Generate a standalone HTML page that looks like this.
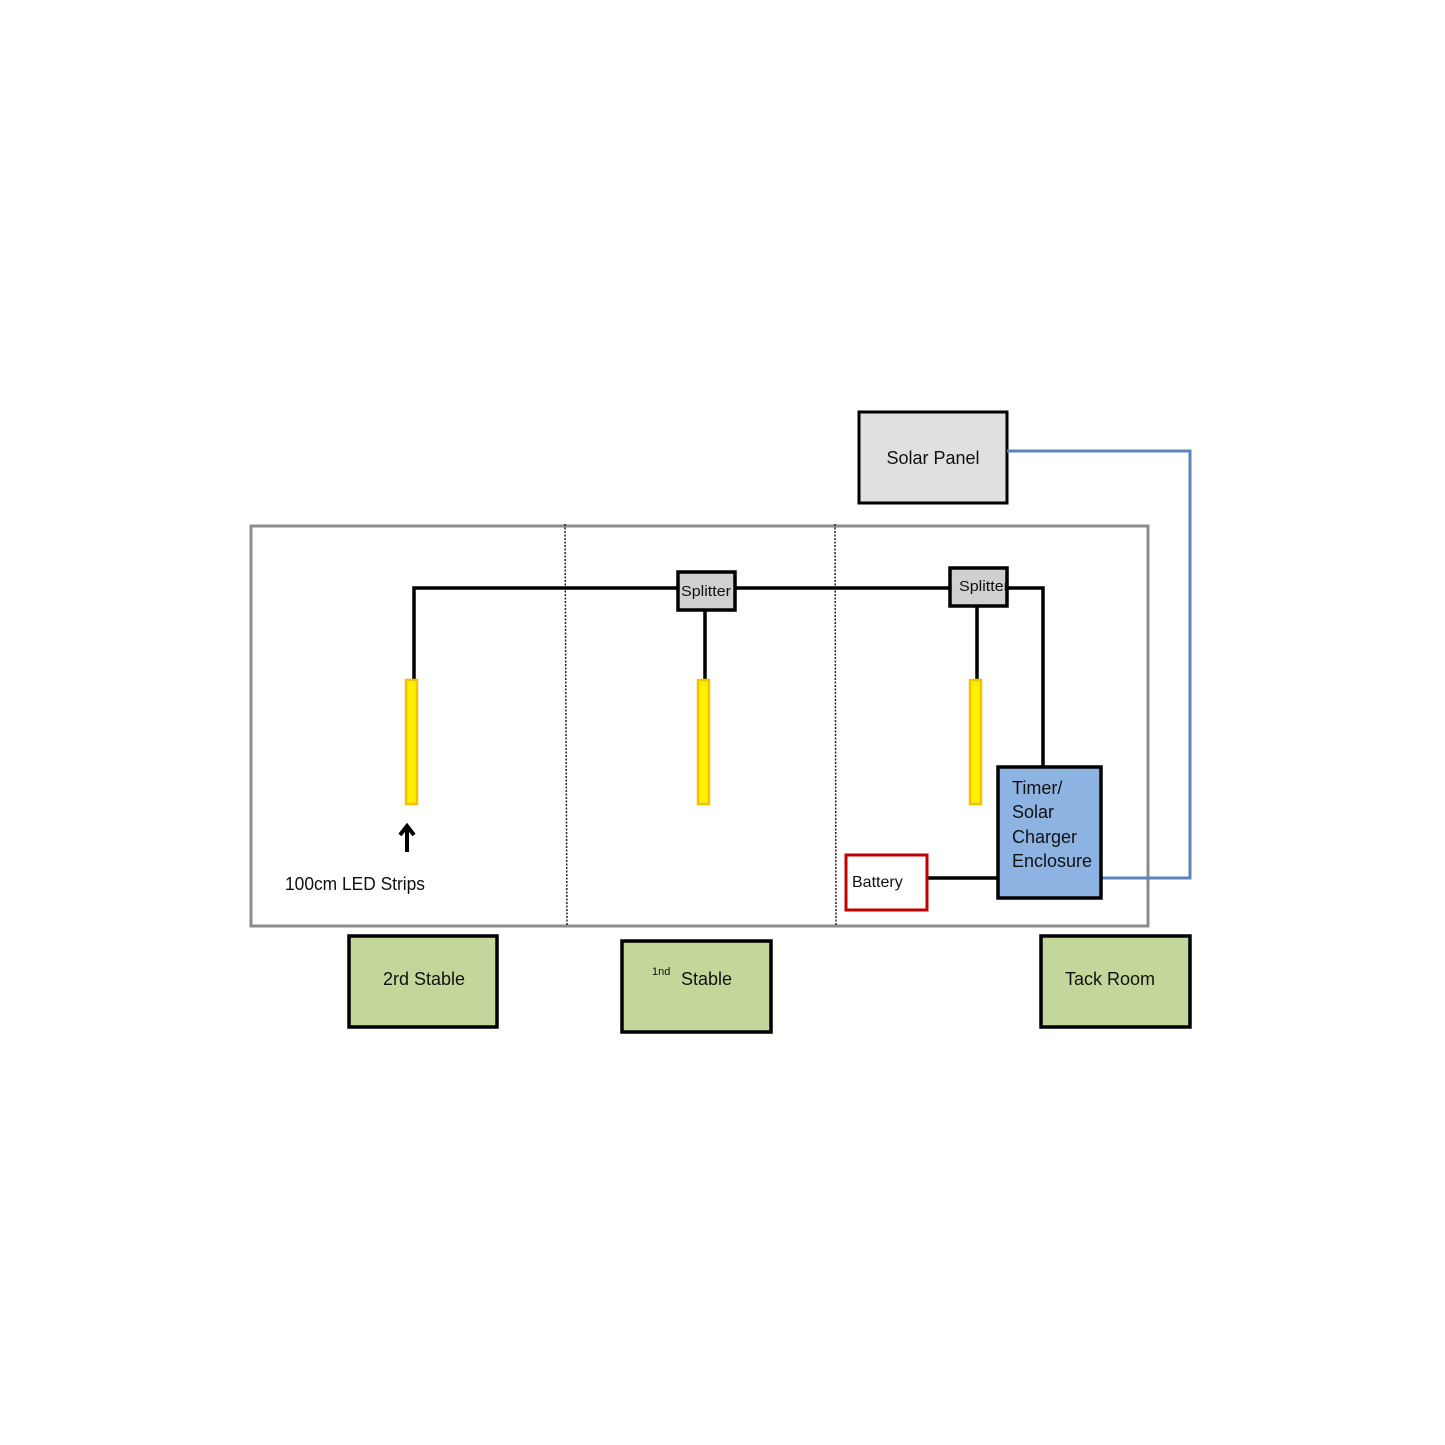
<!DOCTYPE html>
<html><head><meta charset="utf-8"><style>
html,body{margin:0;padding:0;background:#fff;}
svg{display:block;}
text{font-family:"Liberation Sans",sans-serif;fill:#111;}
</style></head><body>
<svg width="1445" height="1445" viewBox="0 0 1445 1445" xmlns="http://www.w3.org/2000/svg">
<rect x="0" y="0" width="1445" height="1445" fill="#fff"/>
<rect x="251" y="526" width="897" height="400" fill="none" stroke="#8c8c8c" stroke-width="3"/>
<line x1="565" y1="524" x2="567" y2="926" stroke="#222" stroke-width="1.5" stroke-dasharray="2,1.5"/>
<line x1="835" y1="524" x2="836" y2="926" stroke="#222" stroke-width="1.5" stroke-dasharray="2,1.5"/>
<rect x="859" y="412" width="148" height="91" fill="#e0e0e0" stroke="#000" stroke-width="3"/>
<text x="933" y="464" font-size="18" text-anchor="middle">Solar Panel</text>
<polyline points="1007,451 1190,451 1190,878 1101,878" fill="none" stroke="#5b85b8" stroke-width="3"/>
<polyline points="414,680 414,588 678,588" fill="none" stroke="#000" stroke-width="3.5"/>
<line x1="735" y1="588" x2="950" y2="588" stroke="#000" stroke-width="3.5"/>
<polyline points="1007,588 1043,588 1043,767" fill="none" stroke="#000" stroke-width="3.5"/>
<line x1="705" y1="610" x2="705" y2="680" stroke="#000" stroke-width="3.5"/>
<line x1="977" y1="606" x2="977" y2="680" stroke="#000" stroke-width="3.5"/>
<line x1="927" y1="878" x2="998" y2="878" stroke="#000" stroke-width="3.5"/>
<rect x="678" y="572" width="57" height="38" fill="#d0d0d0" stroke="#000" stroke-width="3.5"/>
<text x="706" y="596" font-size="15" text-anchor="middle" textLength="50" lengthAdjust="spacingAndGlyphs">Splitter</text>
<rect x="950" y="568" width="57" height="38" fill="#d0d0d0" stroke="#000" stroke-width="3.5"/>
<text x="959" y="591" font-size="15" textLength="50" lengthAdjust="spacingAndGlyphs">Splitter</text>
<rect x="406" y="680" width="11" height="124" fill="#ffef00" stroke="#f2c200" stroke-width="2.5"/>
<rect x="698" y="680" width="11" height="124" fill="#ffef00" stroke="#f2c200" stroke-width="2.5"/>
<rect x="970" y="680" width="11" height="124" fill="#ffef00" stroke="#f2c200" stroke-width="2.5"/>
<line x1="407" y1="852" x2="407" y2="829" stroke="#000" stroke-width="4"/>
<polyline points="400,835 407,826 414,835" fill="none" stroke="#000" stroke-width="4"/>
<text x="285" y="890" font-size="18" textLength="140" lengthAdjust="spacingAndGlyphs">100cm LED Strips</text>
<rect x="998" y="767" width="103" height="131" fill="#8db3e2" stroke="#000" stroke-width="3.5"/>
<text font-size="18"><tspan x="1012" y="794">Timer/</tspan><tspan x="1012" y="818">Solar</tspan><tspan x="1012" y="843">Charger</tspan><tspan x="1012" y="867">Enclosure</tspan></text>
<rect x="846" y="855" width="81" height="55" fill="#fff" stroke="#c00000" stroke-width="3"/>
<text x="852" y="887" font-size="16">Battery</text>
<rect x="349" y="936" width="148" height="91" fill="#c4d79b" stroke="#000" stroke-width="3.5"/>
<text x="424" y="985" font-size="18" text-anchor="middle">2rd Stable</text>
<rect x="622" y="941" width="149" height="91" fill="#c4d79b" stroke="#000" stroke-width="3.5"/>
<text x="652" y="975" font-size="11">1nd</text>
<text x="681" y="985" font-size="18">Stable</text>
<rect x="1041" y="936" width="149" height="91" fill="#c4d79b" stroke="#000" stroke-width="3.5"/>
<text x="1110" y="985" font-size="18" text-anchor="middle">Tack Room</text>
</svg>
</body></html>
